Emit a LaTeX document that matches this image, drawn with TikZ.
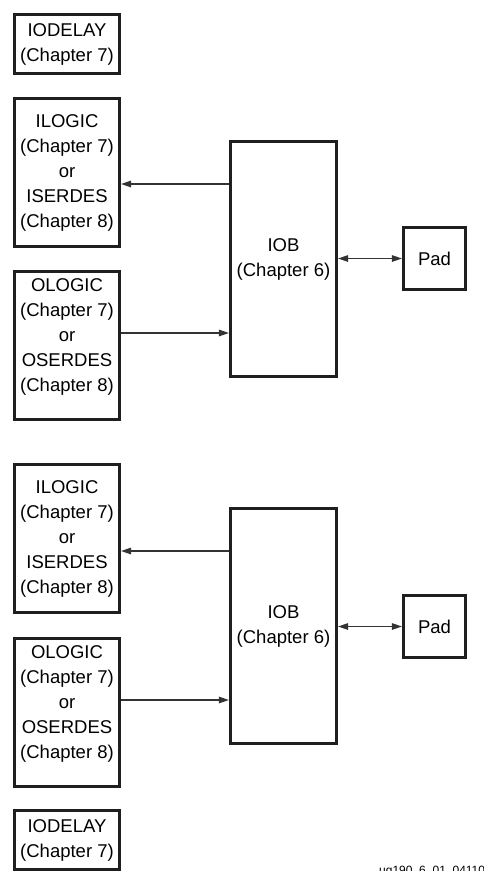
\documentclass[tikz,border=0pt]{standalone}
\usepackage{fontspec}
\setmainfont{Liberation Sans}
\usetikzlibrary{arrows.meta}
\begin{document}
\begin{tikzpicture}[x=1pt,y=-1pt,
  boxline/.style={draw=black!88, line width=2.6pt, inner sep=0pt},
  txt/.style={align=center, inner sep=0pt, font=\fontsize{18.5}{25}\selectfont},
  blk/.style={boxline, txt, minimum width=105.5pt},
  tip/.tip={Triangle[length=10pt,width=6.5pt]},
  conn/.style={line width=1.3pt, draw=black!80, -tip},
  bconn/.style={line width=1.3pt, draw=black!80, tip-tip},
  padbox/.style={boxline, txt, minimum width=62.5pt, minimum height=62.5pt}]
\useasboundingbox (0,0) rectangle (484,871);
\clip (0,0) rectangle (484,871);
% top half
\node[blk, minimum height=59.5pt] (iod1) at (67,44) {IODELAY\\(Chapter 7)};
\node[blk, minimum height=148.5pt] (il1) at (67,172.5) {ILOGIC\\(Chapter 7)\\or\\ISERDES\\(Chapter 8)};
\node[blk, minimum height=148.5pt] (ol1) at (67,345.5) {};
\node[txt] (ol1t) at (67,336.5) {OLOGIC\\(Chapter 7)\\or\\OSERDES\\(Chapter 8)};
\node[blk, minimum width=106.5pt, minimum height=235.5pt] (iob1) at (283.5,259) {IOB\\(Chapter 6)};
\node[padbox] (pad1) at (434.5,258.5) {Pad};
\draw[conn] (iob1.west |- 0,184) -- (il1.east |- 0,184);
\draw[conn] (ol1.east |- 0,333) -- (iob1.west |- 0,333);
\draw[bconn] (iob1.east |- pad1.west) -- (pad1.west);
% bottom half
\node[blk, minimum height=148.5pt] (il2) at (67,538.5) {ILOGIC\\(Chapter 7)\\or\\ISERDES\\(Chapter 8)};
\node[blk, minimum height=148.5pt] (ol2) at (67,712.5) {};
\node[txt] (ol2t) at (67,703.5) {OLOGIC\\(Chapter 7)\\or\\OSERDES\\(Chapter 8)};
\node[blk, minimum width=106.5pt, minimum height=235.5pt] (iob2) at (283.5,626) {IOB\\(Chapter 6)};
\node[padbox] (pad2) at (434.5,626.5) {Pad};
\draw[conn] (iob2.west |- 0,551) -- (il2.east |- 0,551);
\draw[conn] (ol2.east |- 0,700) -- (iob2.west |- 0,700);
\draw[bconn] (iob2.east |- pad2.west) -- (pad2.west);
\node[blk, minimum height=59.5pt] (iod2) at (67,840) {IODELAY\\(Chapter 7)};
\node[anchor=base west, inner sep=0pt, font=\fontsize{12}{14}\selectfont] (lbl) at (379,874) {ug190\_6\_01\_041106};
\end{tikzpicture}
\end{document}
